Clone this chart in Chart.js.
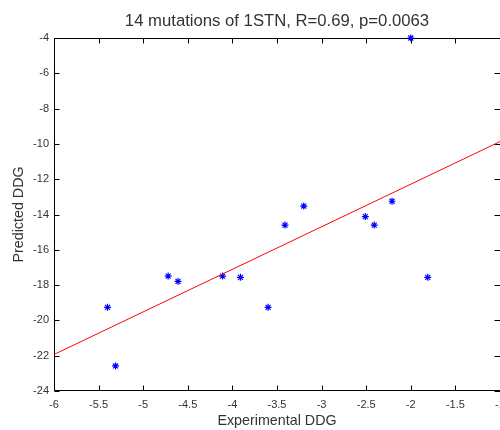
<!DOCTYPE html>
<html>
<head>
<meta charset="utf-8">
<script src="https://cdn.jsdelivr.net/npm/chart.js@4"></script>
<style>
  html, body { margin: 0; padding: 0; background: #ffffff; }
  #wrap { width: 500px; height: 430px; }
</style>
</head>
<body>
<div id="wrap"><canvas id="c" width="500" height="430"></canvas></div>
<script>
// ---- data ----
const chartTitle = '14 mutations of 1STN, R=0.69, p=0.0063';
const xAxisTitle = 'Experimental DDG';
const yAxisTitle = 'Predicted DDG';
const expDDG  = [-5.40, -5.31, -4.72, -4.61, -4.11, -3.91, -3.60, -3.41, -3.20, -2.51, -2.41, -2.21, -2.00, -1.81];
const predDDG = [-19.26, -22.58, -17.49, -17.79, -17.49, -17.56, -19.26, -14.60, -13.52, -14.12, -14.60, -13.25, -4.00, -17.56];
const fitX = [-6, -1];
const fitY = [-21.93, -9.87];
const xTicks = [-6, -5.5, -5, -4.5, -4, -3.5, -3, -2.5, -2, -1.5, -1];
const yTicks = [-24, -22, -20, -18, -16, -14, -12, -10, -8, -6, -4];
const xTickLabels = ['-6', '-5.5', '-5', '-4.5', '-4', '-3.5', '-3', '-2.5', '-2', '-1.5', '-1'];
const yTickLabels = ['-24', '-22', '-20', '-18', '-16', '-14', '-12', '-10', '-8', '-6', '-4'];

const FONT = "'Liberation Sans', Arial, Helvetica, sans-serif";
const TEXT = '#333333';

const pts = expDDG.map((x, i) => ({ x: x, y: predDDG[i] }));
const fitPts = fitX.map((x, i) => ({ x: x, y: fitY[i] }));

// MATLAB-like box with inward tick marks
const boxPlugin = {
  id: 'matlabBox',
  beforeDatasetsDraw(chart) {
    const { ctx, chartArea: a, scales: { x, y } } = chart;
    const L = 5;
    ctx.save();
    ctx.strokeStyle = '#000000';
    ctx.lineWidth = 1;
    ctx.beginPath();
    const l = Math.round(a.left) + 0.5, r = Math.round(a.right) + 0.5;
    const t = Math.round(a.top) + 0.5, b = Math.round(a.bottom) - 0.5;
    ctx.moveTo(l, t); ctx.lineTo(r, t); ctx.lineTo(r, b); ctx.lineTo(l, b); ctx.closePath();
    xTicks.forEach(v => {
      const px = Math.round(x.getPixelForValue(v)) + 0.5;
      ctx.moveTo(px, b); ctx.lineTo(px, b - L);
      ctx.moveTo(px, t); ctx.lineTo(px, t + L);
    });
    yTicks.forEach(v => {
      const py = Math.round(y.getPixelForValue(v)) + 0.5;
      ctx.moveTo(l, py); ctx.lineTo(l + L, py);
      ctx.moveTo(r, py); ctx.lineTo(r - L - 1, py);
    });
    ctx.stroke();
    ctx.restore();
  }
};

new Chart(document.getElementById('c'), {
  type: 'scatter',
  data: {
    datasets: [
      {
        label: 'fit',
        data: fitPts,
        showLine: true,
        borderColor: '#ff0000',
        borderWidth: 1,
        pointRadius: 0,
        fill: false,
        clip: false
      },
      {
        label: 'mutations',
        data: pts,
        showLine: false,
        pointStyle: 'star',
        pointRadius: 3.5,
        borderColor: '#0000ff',
        backgroundColor: '#0000ff',
        pointBorderWidth: 1.2,
        clip: false
      }
    ]
  },
  plugins: [boxPlugin],
  options: {
    responsive: false,
    animation: false,
    devicePixelRatio: 1,
    layout: { padding: 0, autoPadding: false },
    plugins: {
      legend: { display: false },
      tooltip: { enabled: false },
      title: {
        display: true,
        fullSize: false,
        text: chartTitle,
        color: TEXT,
        font: { family: FONT, size: 16.7, weight: 'normal' },
        padding: { top: 11, bottom: 6.96 }
      }
    },
    scales: {
      x: {
        type: 'linear',
        min: -6, max: -1,
        grid: { display: false, drawTicks: false },
        border: { display: false },
        afterBuildTicks: s => { s.ticks = xTicks.map(v => ({ value: v })); },
        afterFit: s => { s.height = 39; s.paddingLeft = 0; s.paddingRight = 0; },
        ticks: {
          color: TEXT,
          padding: 7,
          maxRotation: 0,
          autoSkip: false,
          font: { family: FONT, size: 11 },
          callback: v => xTickLabels[xTicks.indexOf(v)]
        },
        title: {
          display: true,
          text: xAxisTitle,
          color: TEXT,
          font: { family: FONT, size: 14.3 },
          padding: { top: 0, bottom: 0.4 }
        }
      },
      y: {
        type: 'linear',
        min: -24, max: -4,
        grid: { display: false, drawTicks: false },
        border: { display: false },
        afterBuildTicks: s => { s.ticks = yTicks.map(v => ({ value: v })); },
        afterFit: s => { s.width = 54; s.paddingTop = 0; s.paddingBottom = 0; },
        ticks: {
          color: TEXT,
          padding: 5,
          autoSkip: false,
          font: { family: FONT, size: 11 },
          callback: v => yTickLabels[yTicks.indexOf(v)]
        },
        title: {
          display: true,
          text: yAxisTitle,
          color: TEXT,
          font: { family: FONT, size: 14.3 },
          padding: { top: 10.4, bottom: 0 }
        }
      }
    }
  }
});
</script>
</body>
</html>
